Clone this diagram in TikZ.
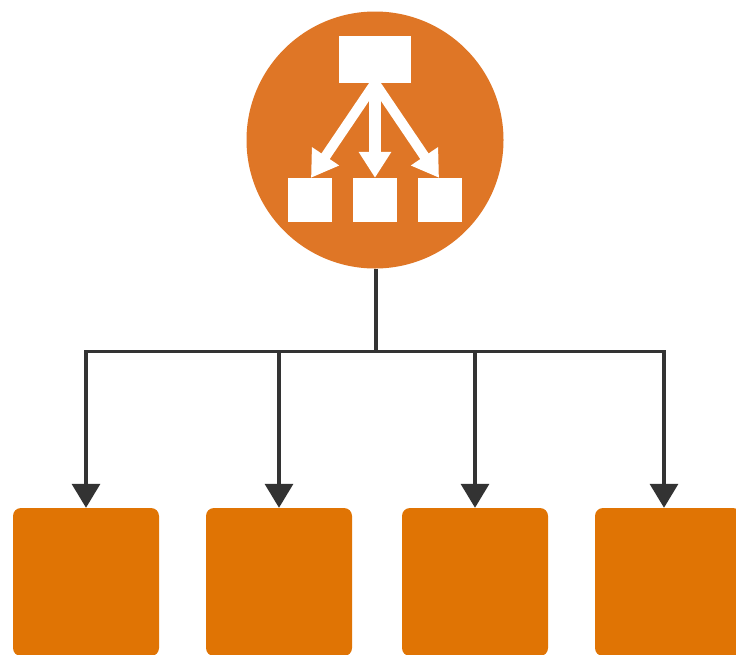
\documentclass[tikz,border=0pt]{standalone}
\usetikzlibrary{arrows.meta}
\definecolor{circ}{HTML}{DF7626}
\definecolor{boxc}{HTML}{E07404}
\definecolor{lin}{HTML}{333333}
\tikzset{
 px/.style={x=1pt,y=-1pt},
 lower/.style={fill=boxc,draw=none,rounded corners=8pt,minimum width=146pt,minimum height=148pt,inner sep=0pt},
 inner/.style={fill=white,draw=none,inner sep=0pt},
 conn/.style={draw=lin,line width=3.4pt},
 arr/.style={conn,-{Triangle[length=24pt,width=28pt]}},
 wht/.style={draw=white,line width=10pt,-{Triangle[length=26pt,width=31pt,fill=white]}}
}
\begin{document}
\begin{tikzpicture}[px]
\useasboundingbox (0,0) rectangle (736,654);
\fill[white] (0,0) rectangle (736,654);
\node[circle,fill=circ,draw=none,minimum size=257pt,inner sep=0pt] (hub) at (375,140) {};
\node[inner,minimum width=72pt,minimum height=47pt] (ti) at (375,59.5) {};
\node[inner,minimum width=44pt,minimum height=44pt] (c1) at (310,200) {};
\node[inner,minimum width=44pt,minimum height=44pt] (c2) at (375,200) {};
\node[inner,minimum width=44pt,minimum height=44pt] (c3) at (440,200) {};
\draw[wht] (ti.south) -- ([xshift=1pt]c1.north);
\draw[wht,line width=12pt] (ti.south) -- (c2.north);
\draw[wht] (ti.south) -- ([xshift=-1pt]c3.north);
\node[lower] (b1) at (86,582) {};
\node[lower] (b2) at (279,582) {};
\node[lower] (b3) at (475,582) {};
\node[lower] (b4) at (668,582) {};
\coordinate (bus) at (376,351.5);
\coordinate (hubout) at (bus |- hub.south);
\draw[conn] (hubout) -- (bus);
\draw[arr] (bus) -| (b1.north);
\draw[arr] (bus) -| (b2.north);
\draw[arr] (bus) -| (b3.north);
\draw[arr] (bus) -| ([xshift=-4pt]b4.north);
\end{tikzpicture}
\end{document}
